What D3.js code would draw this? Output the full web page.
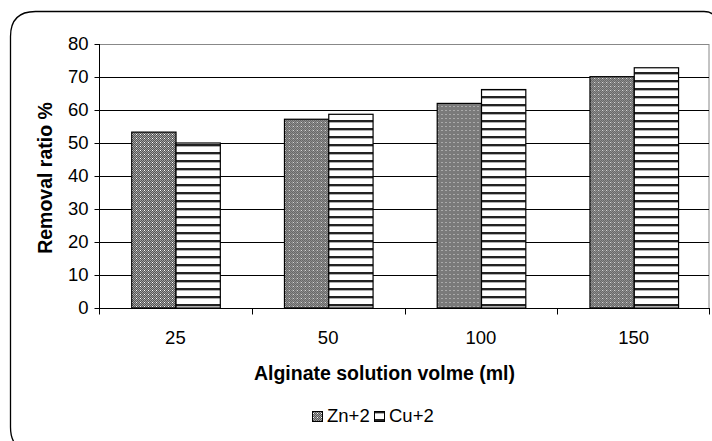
<!DOCTYPE html>
<html><head><meta charset="utf-8">
<script src="https://cdn.jsdelivr.net/npm/d3@7"></script>
<style>body{margin:0;background:#fff}svg{display:block}text{font-family:"Liberation Sans",Arial,sans-serif}</style>
</head><body>
<script>
const categories = ["25", "50", "100", "150"];
const seriesNames = ["Zn+2", "Cu+2"];
const znValues = [53.3, 57.2, 62.0, 70.1];
const cuValues = [50.0, 58.7, 66.2, 72.8];
const yTicks = [0, 10, 20, 30, 40, 50, 60, 70, 80];
const xTitle = "Alginate solution volme (ml)";
const yTitle = "Removal ratio %";

const W = 712, H = 441;
const m = {left: 99, right: 2, top: 44, bottom: 133};
const svg = d3.select("body").append("svg").attr("width", W).attr("height", H);
const defs = svg.append("defs");

// Zn pattern: gray dither
const pz = defs.append("pattern").attr("id", "pzn").attr("patternUnits", "userSpaceOnUse")
  .attr("width", 4).attr("height", 4);
pz.append("rect").attr("width", 4).attr("height", 4).attr("fill", "#a0a0a0");
[[0,0],[2,0],[1,1],[3,1],[0,2],[2,2],[1,3],[3,3]].forEach(([x,y]) =>
  pz.append("rect").attr("x", x).attr("y", y).attr("width", 1).attr("height", 1).attr("fill", "#555555"));
pz.append("rect").attr("x", 1).attr("y", 2).attr("width", 1).attr("height", 1).attr("fill", "#ffffff");
// Cu pattern: horizontal stripes
const pc = defs.append("pattern").attr("id", "pcu").attr("patternUnits", "userSpaceOnUse")
  .attr("width", 8).attr("height", 8);
pc.append("rect").attr("width", 8).attr("height", 8).attr("fill", "#fff");
pc.append("rect").attr("y", 0).attr("width", 8).attr("height", 2).attr("fill", "#222");
pc.append("rect").attr("y", 2).attr("width", 8).attr("height", 1).attr("fill", "#b0b0b0");

// outer rounded border
const L = 10.5, T = 11.5, R = 716, B = 452, r1 = 25, r2 = 12;
svg.append("path")
  .attr("d", `M${L+r1},${T} L${R-r2},${T} Q${R},${T} ${R},${T+r2} L${R},${B} L${L+r1},${B} Q${L},${B} ${L},${B-r1} L${L},${T+r1} Q${L},${T} ${L+r1},${T} Z`)
  .attr("fill", "none").attr("stroke", "#000").attr("stroke-width", 1.3);

const x0 = d3.scaleBand().domain(categories).range([m.left, W - m.right]).paddingInner(0).paddingOuter(0);
const x1 = d3.scaleBand().domain(seriesNames).range([0, x0.bandwidth()]).paddingInner(0).paddingOuter(0.724).align(0.51);
const y = d3.scaleLinear().domain([0, 80]).range([H - m.bottom, m.top]);

const x0l = m.left, x0r = W - m.right;
// plot border (gray)
svg.append("rect").attr("x", x0l + 0.5).attr("y", y(80) + 0.5).attr("width", x0r - x0l - 1.5)
  .attr("height", y(0) - y(80)).attr("fill", "none").attr("stroke", "#888").attr("stroke-width", 1);

// gridlines
svg.append("g").selectAll("line").data(yTicks.filter(d => d > 0 && d < 80)).join("line")
  .attr("x1", x0l).attr("x2", x0r - 1).attr("y1", d => Math.round(y(d)) + 0.5).attr("y2", d => Math.round(y(d)) + 0.5)
  .attr("stroke", "#000").attr("stroke-width", 1);

// bars
const groups = svg.append("g").selectAll("g").data(categories).join("g")
  .attr("transform", d => `translate(${x0(d)},0)`);
groups.selectAll("rect").data((d, i) => [{s: "Zn+2", v: znValues[i]}, {s: "Cu+2", v: cuValues[i]}]).join("rect")
  .attr("x", d => x1(d.s)).attr("width", x1.bandwidth())
  .attr("y", d => y(d.v)).attr("height", d => y(0) - y(d.v))
  .attr("fill", d => d.s === "Zn+2" ? "url(#pzn)" : "url(#pcu)")
  .attr("stroke", "#000").attr("stroke-width", 1.2);

// y axis
const ya = svg.append("g").attr("transform", `translate(${x0l + 0.5},0)`)
  .call(d3.axisLeft(y).tickValues(yTicks).tickSize(5).tickPadding(6));
ya.select(".domain").attr("d", `M0,${y(80)}V${y(0)}`).attr("stroke", "#000");
ya.selectAll(".tick line").attr("stroke", "#000");
ya.selectAll("text").attr("font-size", 18.5).attr("fill", "#000").attr("font-family", "Liberation Sans, Arial, sans-serif");

// x axis
const xa = svg.append("g").attr("transform", `translate(0,${y(0) + 0.5})`)
  .call(d3.axisBottom(x0).tickSize(0).tickPadding(22));
xa.select(".domain").attr("d", `M${x0l},0H${x0r}`).attr("stroke", "#000").attr("stroke-width", 1.2);
xa.selectAll("text").attr("font-size", 18.5).attr("fill", "#000").attr("font-family", "Liberation Sans, Arial, sans-serif");
const bounds = categories.map(c => x0(c)).concat([x0r - 1]);
xa.append("g").selectAll("line").data(bounds).join("line")
  .attr("x1", d => Math.round(d) + 0.5).attr("x2", d => Math.round(d) + 0.5).attr("y1", 0).attr("y2", 6).attr("stroke", "#000");

// titles
svg.append("text").attr("x", (x0l + x0r) / 2 - 20).attr("y", 380).attr("text-anchor", "middle")
  .attr("font-size", 19.5).attr("font-weight", "bold").text(xTitle);
svg.append("text").attr("transform", `translate(52,${(y(0) + y(80)) / 2 + 2}) rotate(-90)`).attr("text-anchor", "middle")
  .attr("font-size", 19.5).attr("font-weight", "bold").text(yTitle);

// legend
const lg = svg.append("g").attr("transform", "translate(312,411)");
const items = [{s: "Zn+2", fill: "url(#pzn)", x: 0}, {s: "Cu+2", fill: "url(#pcu)", x: 62}];
items.forEach(it => {
  lg.append("rect").attr("x", it.x + 0.5).attr("y", 0.5).attr("width", 10).attr("height", 10)
    .attr("fill", it.fill).attr("stroke", "#000").attr("stroke-width", 1);
  lg.append("text").attr("x", it.x + 15).attr("y", 11).attr("font-size", 18.5).text(it.s);
});
</script>
</body></html>
